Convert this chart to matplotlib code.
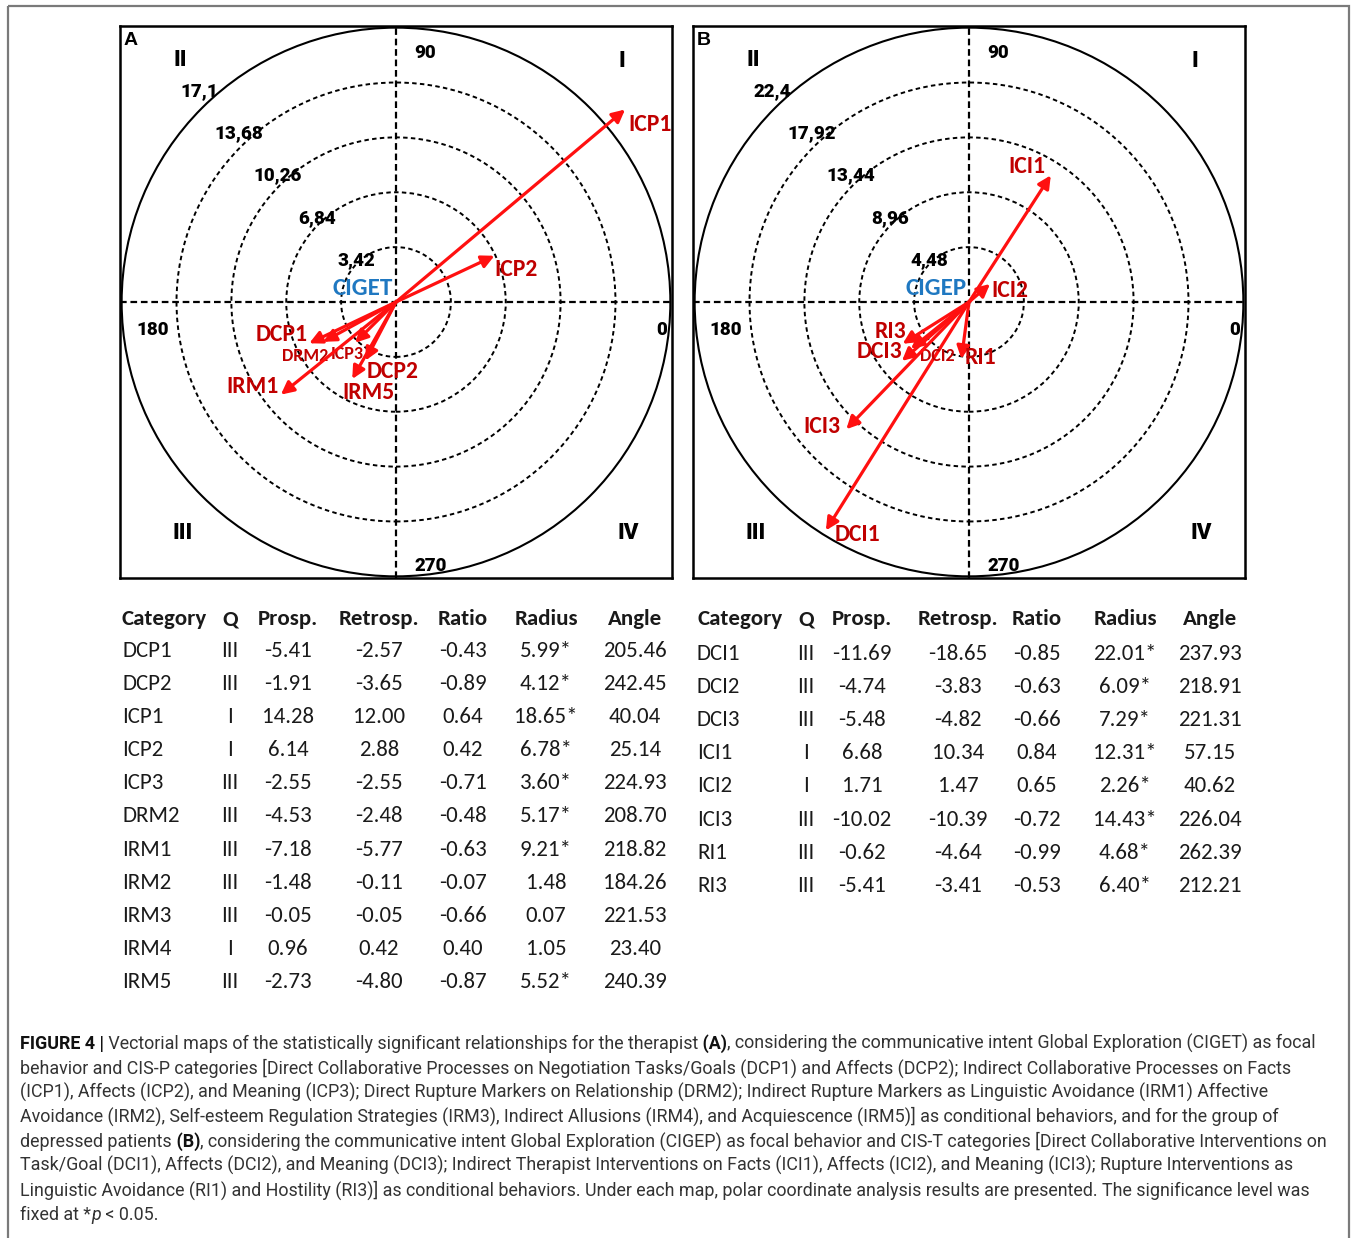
"""Vectorial maps from polar coordinate analysis, with the result tables and caption."""

import matplotlib

matplotlib.use("Agg")
import matplotlib.font_manager as fm
import matplotlib.pyplot as plt
import numpy as np
from matplotlib.patches import Circle, Rectangle


def pick_font(*names):
    """Return the first installed family of the list."""
    installed = {f.name for f in fm.fontManager.ttflist}
    for name in names:
        if name in installed:
            return name
    return "DejaVu Sans"


NUM_FONT = pick_font("Liberation Sans Narrow", "Roboto", "DejaVu Sans")
LABEL_FONT = pick_font("Carlito", "Lato", "DejaVu Sans")
TABLE_FONT = pick_font("Carlito", "Lato", "Open Sans")
CAPTION_FONT = pick_font("Liberation Sans Narrow", "Roboto", "DejaVu Sans")
LETTER_FONT = pick_font("Liberation Sans", "DejaVu Sans")

W, H = 1357, 1238

# --- therapist (A): CIGET as focal behavior ---
cat_a = ["DCP1", "DCP2", "ICP1", "ICP2", "ICP3", "DRM2", "IRM1", "IRM2", "IRM3", "IRM4", "IRM5"]
quad_a = ["III", "III", "I", "I", "III", "III", "III", "III", "III", "I", "III"]
prosp_a = [-5.41, -1.91, 14.28, 6.14, -2.55, -4.53, -7.18, -1.48, -0.05, 0.96, -2.73]
retro_a = [-2.57, -3.65, 12.00, 2.88, -2.55, -2.48, -5.77, -0.11, -0.05, 0.42, -4.80]
ratio_a = [-0.43, -0.89, 0.64, 0.42, -0.71, -0.48, -0.63, -0.07, -0.66, 0.40, -0.87]
radius_a = [5.99, 4.12, 18.65, 6.78, 3.60, 5.17, 9.21, 1.48, 0.07, 1.05, 5.52]
angle_a = [205.46, 242.45, 40.04, 25.14, 224.93, 208.70, 218.82, 184.26, 221.53, 23.40, 240.39]
signif_a = [True, True, True, True, True, True, True, False, False, False, True]
rings_a = [3.42, 6.84, 10.26, 13.68, 17.1]

# --- depressed patients (B): CIGEP as focal behavior ---
cat_b = ["DCI1", "DCI2", "DCI3", "ICI1", "ICI2", "ICI3", "RI1", "RI3"]
quad_b = ["III", "III", "III", "I", "I", "III", "III", "III"]
prosp_b = [-11.69, -4.74, -5.48, 6.68, 1.71, -10.02, -0.62, -5.41]
retro_b = [-18.65, -3.83, -4.82, 10.34, 1.47, -10.39, -4.64, -3.41]
ratio_b = [-0.85, -0.63, -0.66, 0.84, 0.65, -0.72, -0.99, -0.53]
radius_b = [22.01, 6.09, 7.29, 12.31, 2.26, 14.43, 4.68, 6.40]
angle_b = [237.93, 218.91, 221.31, 57.15, 40.62, 226.04, 262.39, 212.21]
signif_b = [True, True, True, True, True, True, True, True]
rings_b = [4.48, 8.96, 13.44, 17.92, 22.4]

quadrant_names = ["I", "II", "III", "IV"]
angle_names = ["0", "90", "180", "270"]

# label offsets from the arrow tips (pixels) and the labels drawn smaller
offsets_a = {"ICP1": (25, -15), "ICP2": (22, -14), "DCP1": (-28, 9), "DRM2": (-18, -14),
             "ICP3": (-8, -11), "DCP2": (27, -11), "IRM1": (-28, 8), "IRM5": (16, -14)}
offsets_b = {"DCI1": (32, -4), "DCI2": (26, -7), "DCI3": (-22, 9), "ICI1": (-24, 9),
             "ICI2": (20, -7), "ICI3": (-24, 3), "RI1": (19, 1), "RI3": (-12, 12)}
small_labels = {"DRM2", "ICP3", "DCI2"}

ARROW_RED = "#FF1010"
LABEL_RED = "#C00000"
FOCAL_BLUE = "#1F78C1"
TABLE_SIZE = 16.5


def draw_map(ax, rings, cats, radius, angle, signif, offsets, focal, letter):
    rmax = rings[-1]
    lim = rmax * 1.006
    ax.set_xlim(-lim, lim)
    ax.set_ylim(-lim, lim)
    ax.set_xticks([])
    ax.set_yticks([])
    for spine in ax.spines.values():
        spine.set_linewidth(1.8)

    for r in rings[:-1]:
        ax.add_patch(Circle((0, 0), r, fill=False, ec="black", lw=1.4, ls=(0, (2.3, 1.7))))
    ax.add_patch(Circle((0, 0), rmax, fill=False, ec="black", lw=1.5))
    ax.axhline(0, color="black", lw=1.6, ls=(0, (3.0, 1.7)))
    ax.axvline(0, color="black", lw=1.6, ls=(0, (3.0, 1.7)))

    # ring values along the upper-left diagonal
    for r in rings:
        a = np.deg2rad(133)
        ax.text(r * 1.05 * np.cos(a), r * 1.05 * np.sin(a), f"{r:g}".replace(".", ","),
                ha="center", va="center", fontsize=13.5, fontweight=900, family=NUM_FONT)

    quad_pos = [(0.909, 0.936), (0.109, 0.938), (0.114, 0.082), (0.920, 0.082)]
    for name, (qx, qy) in zip(quadrant_names, quad_pos):
        ax.text(qx, qy, name, transform=ax.transAxes, ha="center", va="center",
                fontsize=16, fontweight=900, family=NUM_FONT)
    ang_pos = [(0.982, 0.449), (0.553, 0.951), (0.060, 0.449), (0.562, 0.022)]
    for name, (qx, qy) in zip(angle_names, ang_pos):
        ax.text(qx, qy, name, transform=ax.transAxes, ha="center", va="center",
                fontsize=13.5, fontweight=900, family=NUM_FONT)

    ax.text(0.02, 0.973, letter, transform=ax.transAxes, ha="center", va="center",
            fontsize=14, fontweight="bold", family=LETTER_FONT)
    ax.text(0.440, 0.524, focal, transform=ax.transAxes, ha="center", va="center",
            fontsize=18, fontweight="bold", family=LABEL_FONT, color=FOCAL_BLUE)

    for name, r, deg, sig in zip(cats, radius, angle, signif):
        if not sig:
            continue
        t = np.deg2rad(deg)
        tip = (r * np.cos(t), r * np.sin(t))
        ax.annotate("", xy=tip, xytext=(0, 0),
                    arrowprops=dict(arrowstyle="-|>", color=ARROW_RED, lw=2.3,
                                    mutation_scale=19, shrinkA=0, shrinkB=0))
        ax.annotate(name, xy=tip, xytext=offsets[name], textcoords="offset pixels",
                    ha="center", va="center", color=LABEL_RED, fontweight="bold",
                    fontsize=13 if name in small_labels else 17, family=LABEL_FONT)


def draw_table(ax, x_cols, y_head, y_first, cats, quads, prosp, retro, ratio, radius, angle, signif):
    headers = ["Category", "Q", "Prosp.", "Retrosp.", "Ratio", "Radius", "Angle"]
    step = 33.1
    for j, head in enumerate(headers):
        ax.text(x_cols[j], y_head, head, ha="left" if j == 0 else "center", va="center",
                fontsize=TABLE_SIZE, fontweight="bold", family=TABLE_FONT, color="#1a1a1a")
    for i in range(len(cats)):
        y = y_first + i * step
        rad = f"{radius[i]:.2f}" + ("*" if signif[i] else "")
        cells = [cats[i], quads[i], f"{prosp[i]:.2f}", f"{retro[i]:.2f}",
                 f"{ratio[i]:.2f}", rad, f"{angle[i]:.2f}"]
        for j, cell in enumerate(cells):
            ax.text(x_cols[j], y, cell, ha="left" if j == 0 else "center", va="center",
                    fontsize=TABLE_SIZE, family=TABLE_FONT, color="#1a1a1a")


fig = plt.figure(figsize=(W / 100, H / 100), dpi=100)

# full-figure axes in pixel units for tables, caption and frame
bg = fig.add_axes([0, 0, 1, 1])
bg.set_xlim(0, W)
bg.set_ylim(H, 0)
bg.axis("off")
bg.add_patch(Rectangle((8, 6), W - 16, H + 10, fill=False, ec="#7a7a7a", lw=1.6, clip_on=False))

ax_a = fig.add_axes([120 / W, 1 - 578 / H, 552 / W, 552 / H])
ax_b = fig.add_axes([693 / W, 1 - 578 / H, 552 / W, 552 / H])
draw_map(ax_a, rings_a, cat_a, radius_a, angle_a, signif_a, offsets_a, "CIGET", "A")
draw_map(ax_b, rings_b, cat_b, radius_b, angle_b, signif_b, offsets_b, "CIGEP", "B")

draw_table(bg, [122, 230, 288, 379, 463, 546, 635], 619, 651,
           cat_a, quad_a, prosp_a, retro_a, ratio_a, radius_a, angle_a, signif_a)
draw_table(bg, [697, 806, 862, 958, 1037, 1125, 1210], 619, 654,
           cat_b, quad_b, prosp_b, retro_b, ratio_b, radius_b, angle_b, signif_b)

caption = [
    [("FIGURE 4 |", "b"),
     (" Vectorial maps of the statistically significant relationships for the therapist", "n"),
     (" (A)", "b"),
     (", considering the communicative intent Global Exploration (CIGET) as focal", "n")],
    [("behavior and CIS-P categories [Direct Collaborative Processes on Negotiation Tasks/Goals "
      "(DCP1) and Affects (DCP2); Indirect Collaborative Processes on Facts", "n")],
    [("(ICP1), Affects (ICP2), and Meaning (ICP3); Direct Rupture Markers on Relationship (DRM2); "
      "Indirect Rupture Markers as Linguistic Avoidance (IRM1) Affective", "n")],
    [("Avoidance (IRM2), Self-esteem Regulation Strategies (IRM3), Indirect Allusions (IRM4), and "
      "Acquiescence (IRM5)] as conditional behaviors, and for the group of", "n")],
    [("depressed patients", "n"), (" (B)", "b"),
     (", considering the communicative intent Global Exploration (CIGEP) as focal behavior and "
      "CIS-T categories [Direct Collaborative Interventions on", "n")],
    [("Task/Goal (DCI1), Affects (DCI2), and Meaning (DCI3); Indirect Therapist Interventions on "
      "Facts (ICI1), Affects (ICI2), and Meaning (ICI3); Rupture Interventions as", "n")],
    [("Linguistic Avoidance (RI1) and Hostility (RI3)] as conditional behaviors. Under each map, "
      "polar coordinate analysis results are presented. The significance level was", "n")],
    [("fixed at *", "n"), ("p", "i"), (" < 0.05.", "n")],
]

caption_texts = []
line_ends = []
for k, runs in enumerate(caption):
    y = 1049 + k * 24.4
    prev = None
    for text, style in runs:
        kw = dict(fontsize=12, family=CAPTION_FONT, va="baseline", ha="left",
                  color="#111111" if style == "b" else "#333333")
        if style == "b":
            kw["fontweight"] = "bold"
        if style == "i":
            kw["fontstyle"] = "italic"
        if prev is None:
            t = bg.text(20, y, text, **kw)
        else:
            t = bg.annotate(text, xy=(1, y), xycoords=(prev, "data"), **kw)
        caption_texts.append(t)
        prev = t
    line_ends.append(prev)

# scale the caption so the first line ends where the text block ends
fig.canvas.draw()
x_end = line_ends[0].get_window_extent().x1
scale = (1320 - 20) / (x_end - 20)
for t in caption_texts:
    t.set_fontsize(12 * scale)

fig.savefig("out.png", dpi=100)
